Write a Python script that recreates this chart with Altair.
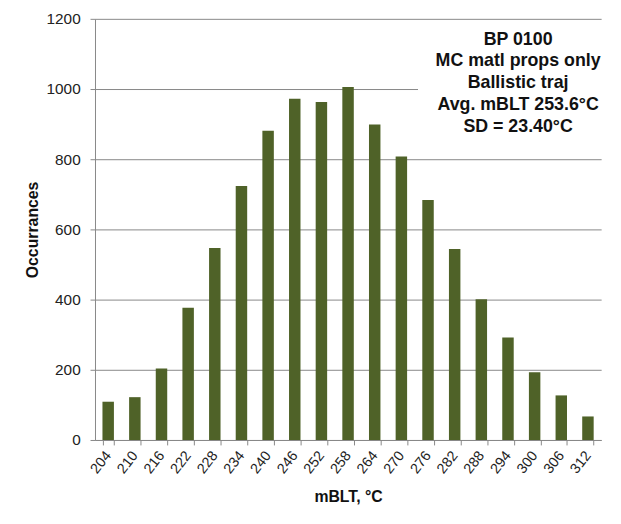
import altair as alt
import pandas as pd

temps = ["204", "210", "216", "222", "228", "234", "240", "246", "252", "258",
         "264", "270", "276", "282", "288", "294", "300", "306", "312"]
counts = [109, 122, 204, 377, 547, 724, 881, 972, 963, 1006,
          899, 808, 684, 544, 401, 292, 193, 127, 67]
note_lines = ["BP 0100", "MC matl props only", "Ballistic traj",
              "Avg. mBLT 253.6°C", "SD = 23.40°C"]

df = pd.DataFrame({"mBLT": temps, "count": counts})
FONT = "Liberation Sans"

x_enc = alt.X("mBLT:N", sort=temps, title="mBLT, °C",
              scale=alt.Scale(paddingInner=0.57, paddingOuter=0.28),
              axis=alt.Axis(labelAngle=-52, tickBand="extent", tickSize=5,
                            domainColor="#888888", tickColor="#888888",
                            labelFont=FONT, labelFontSize=14.5, labelColor="#222222",
                            labelPadding=8,
                            titleFont=FONT, titleFontSize=16, titleFontWeight="bold",
                            titleColor="#111111", titleY=49))
y_enc = alt.Y("count:Q", title="Occurrances",
              scale=alt.Scale(domain=[0, 1200]),
              axis=alt.Axis(values=[0, 200, 400, 600, 800, 1000, 1200], format="d",
                            grid=True, gridColor="#888888", gridWidth=1,
                            domainColor="#888888", tickColor="#888888", tickSize=5,
                            labelFont=FONT, labelFontSize=15.5, labelColor="#222222",
                            labelPadding=10,
                            titleFont=FONT, titleFontSize=16, titleFontWeight="bold",
                            titleColor="#111111", titleX=-55))

bars = alt.Chart(df).mark_bar(color="#4F6228").encode(x=x_enc, y=y_enc)

mask = alt.Chart(df).mark_rule(color="white", strokeWidth=3).encode(
    y=alt.datum(1000), x=alt.value(327), x2=alt.value(514))

note = alt.Chart(pd.DataFrame({"t": [note_lines]})).mark_text(
    font=FONT, fontSize=18, fontWeight="bold", color="#111111",
    align="center", baseline="alphabetic", lineHeight=22
).encode(text="t:N", x=alt.value(428), y=alt.value(26))

chart = alt.layer(bars, mask, note).properties(
    width=512, height=426,
    autosize=alt.AutoSizeParams(type="none"),
    padding={"left": 88, "top": 8, "right": 12, "bottom": 80},
    background="white"
).configure_view(stroke=None)

chart.save("out.html", embed_options={"renderer": "svg", "actions": False})
